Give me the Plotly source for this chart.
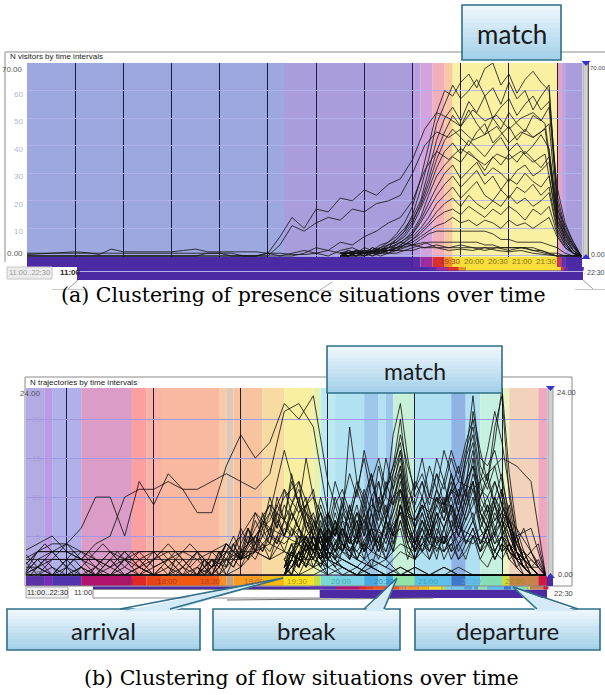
import pandas as pd
import plotly.graph_objects as go

W, H = 605, 695
DAY = "2000-01-01 "

# ---------------- data: (a) N visitors by time intervals ----------------
FULL_T = pd.date_range(DAY + "11:00", DAY + "22:30", freq="15min")   # 47 steps
TOP_T = pd.date_range(DAY + "17:30", DAY + "22:30", freq="10min")    # 31 steps

E1 = [1,1,1,1,1,1,1,1,1,1, 1,1,1,1,1,1,1,1,0,0, 1,7,14,10,17,16,21,20,24,22,
      26,28,35,46,52,50,47,53,49,51, 46,50,52,48,17,8,0]
E2 = [0,0,0,0,0,0,0,0,0,0, 0,0,0,0,0,0,0,0,0,0, 0,4,11,9,12,14,13,17,16,19,
      20,22,30,40,45,43,46,42,44,47, 41,45,43,46,15,6,0]
E3 = [0,0,0,0,0,0,0,0,0,0, 0,0,0,0,0,0,0,0,0,0, 0,0,0,1,3,2,5,4,7,9,
      12,14,20,31,38,35,39,36,33,37, 35,38,34,37,13,5,0]
L1 = [0.5,0.8,1,1.2,1.5,1.2,0.5,2.5,1.5,1.5, 1.5,1.5,1.5,2,2.5,1.5,1.5,1.5,1.5,1.5,
      1,1,0.5,0.5,1,2,1,1.5,2,1.5, 2,3,4,5,3,2,2.5,2,3,2, 1.5,2,1,0.5,0,0,0]
L2 = [0,0,0,0,0,0,0,0,0,0, 0,0,0,0,0,1,1,0,0,0, 1,0,1,2,1,0,2,3,1,2,
      3,5,4,3,4,3,4,3,2,3, 2,3,2,1,0,0,0]
TOP_FULL_SERIES = [E1, E2, E3, L1, L2]

T1 = [1,2,1,3,2,4,5,8,12,18, 28,40,52,60,58,63,66,61,68,70, 62,66,59,64,67,63,60,22,10,4, 0]
T2 = [0,1,2,1,3,2,4,6,9,15, 24,35,48,55,62,57,60,64,58,61, 55,63,57,60,53,58,62,18,8,3, 0]
T3 = [1,0,2,1,2,3,5,7,10,14, 20,31,42,50,54,49,56,52,58,50, 54,57,51,55,58,53,56,25,12,5, 0]
T4 = [0,1,0,2,1,3,4,5,8,12, 19,28,38,45,51,47,53,48,44,50, 46,52,48,45,51,49,54,20,9,4, 0]
T5 = [1,1,2,1,2,2,3,6,9,13, 18,26,35,42,46,43,40,45,48,41, 44,47,42,46,43,45,48,16,7,2, 0]
T6 = [0,2,1,1,3,2,4,5,7,11, 17,24,32,38,41,37,42,39,36,40, 43,38,41,37,40,44,39,15,6,2, 0]
T7 = [1,0,1,2,1,3,2,4,6,9, 14,22,29,33,36,34,38,35,31,36, 33,37,34,38,35,32,36,12,5,1, 0]
T8 = [0,1,1,0,2,1,3,4,6,8, 13,19,25,30,33,28,31,34,29,32, 30,27,31,33,29,31,34,13,6,2, 0]
T9 = [1,1,0,2,1,2,3,3,5,8, 12,17,22,26,29,25,28,31,26,29, 24,28,26,30,27,25,29,11,5,1, 0]
T10 = [0,0,1,1,2,1,2,3,5,7, 10,14,19,22,25,21,24,27,22,20, 24,21,25,23,26,22,25,10,4,1, 0]
T11 = [0,1,0,1,1,2,2,3,4,6, 9,12,16,19,21,18,22,19,17,20, 18,22,19,21,18,20,23,9,4,1, 0]
T12 = [1,0,1,0,1,1,2,2,4,6, 8,11,14,16,17,15,18,16,14,17, 15,18,16,13,17,15,18,8,3,1, 0]
T13 = [0,1,1,1,0,2,1,3,4,5, 7,9,11,12,14,12,13,11,13,12, 10,13,11,12,10,12,14,7,3,1, 0]
T14 = [0,0,1,0,1,1,2,2,3,4, 6,8,9,9,9,9,9,9,9,8, 6,6,5,5,5,5,4,3,1,0, 0]
T15 = [0,0,0,1,0,1,1,2,2,3, 4,5,5,5,5,5,5,5,4,4, 3,3,3,3,2,2,1,1,0,0, 0]
T16 = [0,0,0,0,1,0,1,1,2,2, 3,3,3,3,3,3,3,3,3,3, 3,3,3,3,3,2,1,0,0,0, 0]
TOP_SERIES = [T1, T2, T3, T4, T5, T6, T7, T8, T9, T10, T11, T12, T13, T14, T15, T16]

TOP_BAND_EDGES = ["11:00", "16:20", "19:00", "19:10", "19:25", "19:40", "19:50",
                  "22:00", "22:05", "22:10", "22:31"]
TOP_BAND_FILL = ["#9da7e0", "#a99ddc", "#b8a0e0", "#d3a3dd", "#f1aebb", "#f8c9a2",
                 "#faf0a2", "#eaa2b8", "#c7a2e2", "#a99ddc"]
TOP_BAND_STRIP = ["#4b2aa3", "#4b2aa3", "#5a2ca8", "#9a2e9e", "#dc2f2f", "#f39224",
                  "#f7de3a", "#d8344a", "#6a2eaa", "#4b2aa3"]
TOP_STRIP_LABELS = ["19:30", "20:00", "20:30", "21:00", "21:30"]
TOP_STRIP_LABEL_COLORS = ["#9a3a20", "#8a7020", "#8a7020", "#8a7020", "#8a7020"]
TOP_Y_TICKS = [0, 10, 20, 30, 40, 50, 60, 70]
TOP_Y_LABELS = ["0.00", "10", "20", "30", "40", "50", "60", "70.00"]

# ---------------- data: (b) N trajectories by time intervals ----------------
BOT_T = pd.date_range(DAY + "16:30", DAY + "22:30", freq="10min")    # 37 steps
EARLY_T = pd.date_range(DAY + "16:30", DAY + "18:30", freq="5min")   # 25 steps
ARR_T = pd.date_range(DAY + "18:30", DAY + "20:00", freq="5min")     # 19 steps
MATCH_T = pd.date_range(DAY + "19:30", DAY + "22:30", freq="5min")   # 37 steps
DEP_T = pd.date_range(DAY + "21:45", DAY + "22:30", freq="5min")     # 10 steps

B1 = [2,3,3,4,6,10,10,5,12,9, 13,11,8,8,14,18,15,17,22,20, 23,12,6,3,1,2,0,1,0,0, 1,0,0,0,0,0,0]
B2 = [0,2,3,3,2,4,5,10,11,11, 12,11,11,12,13,12,11,13,21,22, 19,8,4,2,1,0,1,0,0,1, 0,0,0,0,0,0,0]
B3 = [0,0,1,0,1,0,0,1,0,0, 1,0,0,2,1,3,5,8,16,9, 5,3,1,0,2,1,0,0,0,1, 0,0,0,0,0,0,0]
B4 = [3,4,5,3,2,1,3,2,3,1, 2,3,2,3,4,2,3,5,4,6, 3,2,1,0,1,0,0,1,0,0, 0,0,0,0,0,0,0]
B5 = [1,3,4,4,3,2,1,3,1,2, 3,1,3,1,2,3,5,3,7,5, 4,2,0,1,0,0,0,0,0,0, 0,0,0,0,0,0,0]
B6 = [2,2,2,2,2,2,1,2,2,3, 3,3,3,3,3,2,4,6,5,9, 7,3,2,1,0,0,1,0,0,0, 0,0,0,0,0,0,0]
B7 = [0,1,0,2,0,1,0,2,1,0, 2,0,1,0,4,2,5,7,11,8, 10,6,3,2,1,0,0,0,0,0, 0,0,0,0,0,0,0]
B8 = [1,1,2,2,2,2,2,2,2,2, 2,2,2,2,2,2,3,2,3,2, 1,0,0,0,0,0,0,0,0,0, 0,0,0,0,0,0,0]
B9 = [0,3,3,3,3,3,3,3,3,3, 3,3,3,3,3,3,3,4,3,2, 2,1,0,0,0,0,0,0,0,0, 0,0,0,0,0,0,0]
B10 = [0,0,0,0,1,0,0,0,1,0, 0,2,0,1,3,5,8,6,10,12, 7,4,2,1,0,0,0,0,0,0, 0,0,0,0,0,0,0]
B11 = [0,0,0,0,0,0,1,0,0,1, 2,0,3,1,4,2,6,9,7,11, 5,3,1,0,0,0,0,0,0,0, 0,0,0,0,0,0,0]
B12 = [0,1,0,1,0,0,2,0,1,0, 0,1,0,2,0,1,3,2,5,4, 6,2,1,0,0,0,0,0,0,0, 0,0,0,0,0,0,0]
B13 = [0,0,0,0,0,0,0,0,0,0, 0,0,0,0,0,0,0,0,0,0, 1,2,4,3,6,5,8,7,10,9, 12,11,13,15,14,12,0]
B14 = [0,0,0,0,0,0,0,0,0,0, 0,0,0,0,0,0,0,0,0,0, 0,1,2,1,3,2,4,3,5,4, 6,5,4,7,5,6,0]
B15 = [0,0,0,0,0,0,0,0,0,0, 0,0,0,0,0,0,0,0,0,0, 0,0,1,0,2,1,3,2,4,3, 5,4,6,8,6,3,0]
BOT_SERIES = [B1, B2, B3, B4, B5, B6, B7, B8, B9, B10, B11, B12, B13, B14, B15]

X1 = [0,1,2,1,0,1,2,3,2,1, 0,1,2,1,2,3,2,1,0,1, 0,2,1,0,1]
X2 = [2,1,0,1,2,3,4,3,2,3, 2,1,2,3,2,1,0,1,2,3, 2,3,2,1,2]
X3 = [1,2,3,4,3,2,1,0,1,2, 1,2,3,2,1,2,3,3,3,2, 1,0,1,2,3]
X4 = [0,0,1,2,3,2,1,2,1,0, 1,0,0,1,2,1,2,1,2,3, 4,3,2,1,0]
X5 = [3,2,1,2,1,0,1,2,3,2, 3,4,3,2,3,2,1,2,3,2, 1,2,3,4,3]
EARLY_SERIES = [X1, X2, X3, X4, X5]

A1 = [0,1,3,2,4,3,5,4,7,5, 8,6,9,7,10,6,4,2,0]
A2 = [1,0,2,1,3,5,3,6,4,7, 9,6,11,8,6,9,5,3,1]
A3 = [0,2,1,3,2,4,2,5,3,6, 4,8,5,9,12,7,4,2,1]
A4 = [2,1,0,2,4,3,6,4,8,6, 10,7,5,8,6,4,3,1,0]
A5 = [0,0,1,0,2,1,3,2,5,3, 6,4,7,5,8,10,6,3,2]
A6 = [1,2,0,1,3,2,4,6,4,7, 5,9,7,12,9,6,8,4,2]
A7 = [0,1,0,1,2,1,3,2,4,3, 5,4,6,5,7,9,11,6,3]
A8 = [3,1,2,0,1,3,2,4,3,5, 4,7,5,8,6,4,5,3,1]
A9 = [0,2,1,3,1,4,2,6,3,8, 5,10,7,13,9,15,10,5,2]
A10 = [1,0,1,2,0,2,1,3,2,4, 2,5,3,6,4,5,3,2,1]
ARR_SERIES = [A1, A2, A3, A4, A5, A6, A7, A8, A9, A10]

M1 = [1,3,2,5,3,6,4,8,5,9, 6,11,8,14,10,18,22,15,10,12, 8,11,9,13,10,15,23,14,12,17, 24,13,6,3,1,0,0]
M2 = [0,3,4,7,5,9,6,10,7,19, 12,9,13,8,11,14,20,12,8,10, 7,9,12,8,11,9,13,10,12,9, 6,4,2,1,0,0,0]
M3 = [0,2,5,3,7,4,8,5,10,7, 11,8,12,9,15,11,16,10,7,9, 6,10,8,11,14,10,21,16,12,19, 23,10,5,2,1,0,0]
M4 = [0,2,6,3,5,8,4,7,3,6, 9,5,8,4,7,10,13,8,5,7, 4,8,6,9,5,8,11,7,9,6, 8,5,3,1,0,0,0]
M5 = [1,4,2,5,3,7,4,6,9,5, 8,6,10,7,12,9,14,8,11,15, 10,13,9,12,8,11,7,10,13,9, 11,7,4,2,1,0,0]
M6 = [2,1,3,2,4,3,5,3,6,4, 5,3,6,4,7,5,9,6,4,6, 3,5,4,6,3,5,7,4,6,3, 5,4,2,1,0,0,0]
M7 = [0,1,0,2,1,3,2,4,3,5, 2,4,3,6,4,7,10,5,3,5, 2,4,3,5,2,4,6,3,5,2, 4,3,1,0,0,0,0]
M8 = [1,4,4,8,6,10,7,12,9,13, 10,16,12,15,11,13,18,14,11,13, 10,15,12,16,13,17,20,15,14,16, 12,8,3,1,0,0,0]
M9 = [0,3,2,6,4,3,7,5,8,6, 4,7,5,9,6,8,12,7,4,6, 8,5,9,6,10,7,9,12,8,10, 7,5,3,2,1,1,0]
M10 = [0,3,5,4,6,8,5,9,11,8, 12,10,13,9,11,14,17,11,9,12, 9,13,11,15,12,16,19,13,11,14, 10,6,2,0,0,0,0]
M11 = [0,2,1,3,2,1,3,2,4,3, 2,4,3,5,3,6,8,4,2,4, 3,5,4,6,4,5,7,4,6,4, 5,3,2,1,0,0,0]
M12 = [1,2,4,3,5,4,6,5,7,6, 8,7,9,8,10,9,11,8,7,9, 8,10,9,11,10,12,14,11,10,12, 9,7,4,3,2,1,0]
M13 = [0,1,3,1,4,2,5,3,7,4, 8,5,10,6,8,12,15,9,6,8, 5,9,7,10,6,9,12,8,10,7, 9,6,3,2,0,0,0]
M14 = [1,0,2,4,2,5,3,6,4,3, 5,7,4,8,5,9,13,6,4,7, 5,8,6,9,7,10,15,8,6,9, 7,4,2,1,1,0,0]
M15 = [0,2,1,4,3,6,8,5,9,7, 11,15,10,12,8,10,11,9,12,10, 14,11,16,13,10,15,18,12,16,21, 17,11,5,2,0,0,0]
M16 = [2,4,1,3,5,2,4,6,3,5, 7,4,6,3,5,8,11,6,3,5, 7,4,6,8,5,7,10,6,8,5, 7,4,2,3,1,0,0]
M17 = [0,2,4,2,5,3,6,3,5,2, 4,6,3,5,2,4,7,3,2,4, 6,3,5,2,4,6,8,4,6,3, 5,2,1,0,0,0,0]
M18 = [1,3,1,4,2,5,2,4,6,3, 5,2,6,3,7,4,9,5,3,6, 4,7,3,5,8,4,6,3,7,4, 6,3,2,1,0,0,0]
M19 = [2,0,3,1,3,1,4,2,3,5, 2,4,1,4,2,5,6,2,5,3, 2,5,2,4,2,3,5,2,4,6, 3,4,3,2,1,0,0]
M20 = [0,1,2,4,1,3,5,2,6,4, 7,3,8,5,6,3,9,4,2,5, 3,6,4,7,5,8,12,6,9,5, 11,6,3,1,0,0,0]
M21 = [1,2,1,3,4,2,3,1,3,2, 5,3,4,2,5,3,7,4,6,3, 5,2,6,3,4,2,5,3,4,2, 4,2,3,1,2,1,0]
M22 = [0,1,3,5,3,6,4,7,5,8, 5,9,6,10,7,11,14,8,6,9, 6,10,7,11,8,12,16,9,7,10, 8,6,4,2,1,0,0]
M23 = [0,2,1,4,2,6,3,7,4,9, 5,10,6,12,7,13,16,9,6,10, 7,11,8,13,9,14,17,10,8,12, 9,6,3,1,0,0,0]
M24 = [1,0,3,2,5,2,6,4,3,7, 4,8,5,3,7,5,9,6,3,7, 5,8,4,9,6,10,12,7,5,8, 6,9,4,2,1,0,0]
M25 = [0,1,2,1,3,5,2,4,6,3, 5,8,4,6,9,5,11,7,4,8, 5,7,10,6,8,11,14,8,6,10, 13,7,3,1,0,0,0]
M26 = [2,3,2,4,3,2,5,3,4,2, 6,3,5,4,3,6,8,5,4,3, 6,4,5,3,7,4,5,6,4,3, 5,3,2,2,1,0,0]
MATCH_SERIES = [M1, M2, M3, M4, M5, M6, M7, M8, M9, M10, M11, M12, M13, M14, M15, M16,
                M17, M18, M19, M20, M21, M22, M23, M24, M25, M26]

D1 = [6,4,5,3,4,2,3,1,2,0]
D2 = [3,5,2,4,3,5,2,3,1,0]
D3 = [2,1,3,2,4,1,2,3,1,0]
D4 = [8,6,9,5,7,4,6,3,4,0]
DEP_SERIES = [D1, D2, D3, D4]

BOT_BAND_EDGES = ["16:30", "16:45", "16:50", "17:10", "17:45", "17:55", "18:05", "18:45",
                  "18:50", "18:55", "19:15", "19:30", "19:50", "19:55", "20:05", "20:25",
                  "20:35", "20:40", "20:45", "21:00", "21:25", "21:35", "21:45", "22:00",
                  "22:05", "22:25", "22:32"]
BOT_BAND_FILL = ["#b3abe3", "#bd9ae4", "#b0b0ea", "#db9dc8", "#fb9fa0", "#fab1a6", "#f9b9a0",
                 "#f8caa8", "#dfc8b8", "#f8c4a0", "#f8dba0", "#f8f0a0", "#e6f2b2", "#bdeaf0",
                 "#b2e2f2", "#9dc8ec", "#b2e2f2", "#9dc8ec", "#c8f0d8", "#b0e0f2", "#8fb4e4",
                 "#b0e0f2", "#c6f0e0", "#eaf4c0", "#f2d2ba", "#f0a8c0"]
BOT_BAND_STRIP = ["#5a32a8", "#7a2ab8", "#5234b0", "#b0146e", "#e02828", "#e84218", "#ee5a14",
                  "#f88c28", "#c8a07c", "#f89a20", "#f8b810", "#f8e020", "#c4e040", "#78d8d4",
                  "#74d0e4", "#4aa8e0", "#74d0e4", "#4aa8e0", "#90e4a8", "#5cc0e8", "#3c78c8",
                  "#5cc0e8", "#84e0b4", "#c8e040", "#c8844a", "#d01840"]
BOT_STRIP_LABELS = ["17:30", "18:00", "18:30", "19:00", "19:30", "20:00", "20:30", "21:00",
                    "21:30", "22:00"]
BOT_STRIP_LABEL_COLORS = ["#8a2a4a", "#a03020", "#a03a20", "#a05a20", "#9a7a10", "#3a9a9a",
                          "#2a7aaa", "#3a9aaa", "#7a9ad8", "#8a8a10"]
BOT_Y_TICKS = [0, 5, 10, 15, 20, 24]
BOT_Y_LABELS = ["0.00", "5", "10", "15", "20", "24.00"]


# ---------------- helpers ----------------
def hm(s):
    return DAY + s


def hours(s):
    h, m = s.split(":")
    return int(h) + int(m) / 60


def X(p):
    return p / W


def Y(p):
    return 1 - p / H


fig = go.Figure()
LINE_TOP = dict(color="#111111", width=0.8)
LINE_BOT = dict(color="#0a0a0a", width=0.8)


def add_lines(times, series_list, line, xa, ya):
    for s in series_list:
        fig.add_trace(go.Scatter(x=times, y=s, mode="lines", line=line, xaxis=xa, yaxis=ya,
                                 hoverinfo="skip", showlegend=False))


add_lines(FULL_T, TOP_FULL_SERIES, LINE_TOP, "x", "y")
add_lines(TOP_T, TOP_SERIES, LINE_TOP, "x", "y")
add_lines(BOT_T, BOT_SERIES, LINE_BOT, "x2", "y2")
add_lines(EARLY_T, EARLY_SERIES, LINE_BOT, "x2", "y2")
add_lines(ARR_T, ARR_SERIES, LINE_BOT, "x2", "y2")
add_lines(MATCH_T, MATCH_SERIES, LINE_BOT, "x2", "y2")
add_lines(DEP_T, DEP_SERIES, LINE_BOT, "x2", "y2")

shapes = []
ann = []

TOP_STRIP = (-4.0, -0.36)
BOT_STRIP = (-1.41, -0.13)

# background bands + strips, both panels
for edges, fills, strips, xr, yr, ytop, strip in [
        (TOP_BAND_EDGES, TOP_BAND_FILL, TOP_BAND_STRIP, "x", "y", 70, TOP_STRIP),
        (BOT_BAND_EDGES, BOT_BAND_FILL, BOT_BAND_STRIP, "x2", "y2", 24, BOT_STRIP)]:
    for i in range(len(fills)):
        shapes.append(dict(type="rect", xref=xr, yref=yr, x0=hm(edges[i]), x1=hm(edges[i + 1]),
                           y0=strip[1], y1=ytop, fillcolor=fills[i], line=dict(width=0),
                           layer="below"))
        shapes.append(dict(type="rect", xref=xr, yref=yr, x0=hm(edges[i]), x1=hm(edges[i + 1]),
                           y0=strip[0], y1=strip[1], fillcolor=strips[i], line=dict(width=0),
                           layer="above"))

# strip time labels
for lab, col in zip(TOP_STRIP_LABELS, TOP_STRIP_LABEL_COLORS):
    ann.append(dict(x=hm(lab), y=sum(TOP_STRIP) / 2, xref="x", yref="y", text=lab, showarrow=False,
                    xanchor="left", yanchor="middle", xshift=1,
                    font=dict(family="Liberation Sans", size=8, color=col)))
for lab, col in zip(BOT_STRIP_LABELS, BOT_STRIP_LABEL_COLORS):
    ann.append(dict(x=hm(lab), y=sum(BOT_STRIP) / 2, xref="x2", yref="y2", text=lab,
                    showarrow=False, xanchor="left", yanchor="middle", xshift=1, opacity=0.75,
                    font=dict(family="Liberation Sans", size=8, color=col)))

# y-axis value labels (drawn as text next to the gridlines)
for i, (v, lab) in enumerate(zip(TOP_Y_TICKS, TOP_Y_LABELS)):
    end = i in (0, len(TOP_Y_TICKS) - 1)
    shift = 2 if i == 0 else (-6 if i == len(TOP_Y_TICKS) - 1 else -3.5)
    ann.append(dict(x=X(25), y=v, xref="paper", yref="y", text=lab, showarrow=False,
                    xanchor="right", yanchor="middle", yshift=shift,
                    font=dict(family="Liberation Sans", size=8,
                              color="#555555" if end else "#b4b4d8")))
for i, (v, lab) in enumerate(zip(BOT_Y_TICKS, BOT_Y_LABELS)):
    end = i in (0, len(BOT_Y_TICKS) - 1)
    shift = 2 if i == 0 else (-5 if i == len(BOT_Y_TICKS) - 1 else 0)
    ann.append(dict(x=X(43.5), y=v, xref="paper", yref="y2", text=lab, showarrow=False,
                    xanchor="right", yanchor="middle", yshift=shift,
                    font=dict(family="Liberation Sans", size=8,
                              color="#555555" if end else "#a49ed8")))


def prect(x0, y0, x1, y1, fill, line_color=None, lw=1, layer="above"):
    shapes.append(dict(type="rect", xref="paper", yref="paper", x0=X(x0), x1=X(x1), y0=Y(y1),
                       y1=Y(y0), fillcolor=fill,
                       line=dict(width=lw if line_color else 0, color=line_color or fill),
                       layer=layer))


def pline(x0, y0, x1, y1, color, lw=1):
    shapes.append(dict(type="line", xref="paper", yref="paper", x0=X(x0), x1=X(x1), y0=Y(y0),
                       y1=Y(y1), line=dict(color=color, width=lw), layer="above"))


def ptext(x, y, text, size=8, color="#222", anchor="left", family="Liberation Sans", bold=False,
          pad=1):
    if bold:
        text = "<b>" + text + "</b>"
    ann.append(dict(x=X(x), y=Y(y), xref="paper", yref="paper", text=text, showarrow=False,
                    xanchor=anchor, yanchor="middle", borderpad=pad,
                    font=dict(family=family, size=size, color=color)))


# ----- panel (a) chrome -----
pline(5, 52, 605, 52, "#8a8a8a")
pline(5, 52, 5, 262, "#8a8a8a")
ptext(8, 57, "N visitors by time intervals", 8, "#1a1a1a")
prect(583, 63, 588, 257, "#cfcfcf", "#a0a0a0", 1)
pline(588.5, 63, 588.5, 257, "#555555", 1)
shapes.append(dict(type="path", xref="paper", yref="paper",
                   path=f"M {X(581.5)},{Y(61)} L {X(590.5)},{Y(61)} L {X(586)},{Y(66)} Z",
                   fillcolor="#3434c8", line=dict(width=0), layer="above"))
shapes.append(dict(type="path", xref="paper", yref="paper",
                   path=f"M {X(581.5)},{Y(259)} L {X(590.5)},{Y(259)} L {X(586)},{Y(254)} Z",
                   fillcolor="#3434c8", line=dict(width=0), layer="above"))
ptext(588.8, 68, "70.00", 6, "#444", pad=0)
ptext(589.5, 254, "0.00", 7, "#444", pad=0)
# overview bar
prect(77, 267, 583, 280, "#4b2aa3")
for i in range(len(TOP_BAND_STRIP)):
    a = 77 + (hours(TOP_BAND_EDGES[i]) - 11) * 506 / 11.5
    b = 77 + (hours(TOP_BAND_EDGES[i + 1]) - 11) * 506 / 11.5
    prect(a, 267, b, 270.5, TOP_BAND_STRIP[i])
pline(77, 271.5, 583, 271.5, "#b8aee8", 1)
prect(7, 267, 52, 279, "#ececec", "#c4c4c4", 1)
ptext(29.5, 273, "11:00..22:30", 7.5, "#9a9a9a", "center")
ptext(58, 273, "11:00", 8, "#222", bold=True)
ptext(586, 273, "22:30", 7, "#444", pad=0)
pline(78, 280, 68, 289, "#9a9a9a")
pline(52, 289.5, 84, 289.5, "#c8c8c8")
pline(583, 280, 593, 289, "#9a9a9a")
pline(575, 289.5, 605, 289.5, "#c8c8c8")
pline(320, 290, 332, 282, "#b0b0b0")
pline(306, 290.5, 334, 290.5, "#d0d0d0")

# ----- panel (b) chrome -----
shapes.append(dict(type="rect", xref="paper", yref="paper", x0=X(25), x1=X(572), y0=Y(586),
                   y1=Y(377), fillcolor="rgba(0,0,0,0)", line=dict(color="#8a8a8a", width=1),
                   layer="above"))
ptext(28, 382.5, "N trajectories by time intervals", 8, "#1a1a1a")
prect(548, 388, 553, 576, "#cfcfcf", "#9a9a9a", 1)
shapes.append(dict(type="path", xref="paper", yref="paper",
                   path=f"M {X(546)},{Y(386)} L {X(555)},{Y(386)} L {X(550.5)},{Y(391)} Z",
                   fillcolor="#3434c8", line=dict(width=0), layer="above"))
shapes.append(dict(type="path", xref="paper", yref="paper",
                   path=f"M {X(546)},{Y(578)} L {X(555)},{Y(578)} L {X(550.5)},{Y(573)} Z",
                   fillcolor="#3434c8", line=dict(width=0), layer="above"))
prect(547, 577, 553, 586, "#4b2aa3")
ptext(555, 392, "24.00", 7.5, "#444")
ptext(556, 574, "0.00", 7.5, "#444")
prect(93, 586.5, 547, 589.5, "#4b2aa3")
for i in range(len(BOT_BAND_STRIP)):
    a = 93 + (hours(BOT_BAND_EDGES[i]) - 11) * 454 / 11.5
    b = 93 + (hours(BOT_BAND_EDGES[i + 1]) - 11) * 454 / 11.5
    prect(a, 586.5, b, 589.5, BOT_BAND_STRIP[i])
prect(93, 589.5, 320, 598, "#ffffff", "#8a8a8a", 1)
prect(320, 590, 547, 598, "#4b2aa3")
prect(26, 587, 68, 598, "#f0f0f0", "#a8a8a8", 1)
ptext(47, 592.5, "11:00..22:30", 7.5, "#333", "center")
ptext(72, 592.5, "11:00", 7.5, "#333")
ptext(552, 593, "22:30", 7.5, "#444")
pline(227, 600, 433, 598, "#6a6a6a")

# ----- callout boxes -----
TOPC = (238, 247, 252)
BOTC = (164, 208, 233)
BORDER = "#2f6f87"


def callout(x0, y0, x1, y1, text, size, ptr=None):
    n = 12
    for i in range(n):
        f = i / (n - 1)
        c = tuple(round(TOPC[k] + (BOTC[k] - TOPC[k]) * f) for k in range(3))
        ya = y0 + (y1 - y0) * i / n
        yb = y0 + (y1 - y0) * (i + 1) / n + 0.6
        prect(x0, ya, x1, min(yb, y1), "rgb(%d,%d,%d)" % c)
    shapes.append(dict(type="rect", xref="paper", yref="paper", x0=X(x0), x1=X(x1), y0=Y(y1),
                       y1=Y(y0), fillcolor="rgba(0,0,0,0)", line=dict(color=BORDER, width=1.6),
                       layer="above"))
    if ptr:
        bx0, bx1, tx, ty = ptr
        shapes.append(dict(type="path", xref="paper", yref="paper",
                           path=f"M {X(bx0)},{Y(y0 + 2.5)} L {X(tx)},{Y(ty)} L {X(bx1)},{Y(y0 + 2.5)} Z",
                           fillcolor="#d4eaf6", line=dict(width=0), layer="above"))
        shapes.append(dict(type="path", xref="paper", yref="paper",
                           path=f"M {X(bx0)},{Y(y0)} L {X(tx)},{Y(ty)} L {X(bx1)},{Y(y0)}",
                           fillcolor="rgba(0,0,0,0)", line=dict(color=BORDER, width=1.6),
                           layer="above"))
    ptext((x0 + x1) / 2, (y0 + y1) / 2 + 1, text, size, "#1a1a1a", "center", "Lato")


callout(462, 5, 561, 60, "match", 26)
callout(327, 346, 502, 393, "match", 23)
callout(7, 609, 200, 650, "arrival", 24, (120, 170, 283, 578))
callout(213, 609, 400, 650, "break", 24, (364, 384, 397, 578))
callout(415, 609, 600, 650, "departure", 24, (537, 578, 513, 587))

# captions
ptext(303, 295, "(a) Clustering of presence situations over time", 20.5, "#000", "center",
      "DejaVu Serif")
ptext(301, 678, "(b) Clustering of flow situations over time", 20.5, "#000", "center",
      "DejaVu Serif")

fig.update_layout(
    width=W, height=H, margin=dict(l=0, r=0, t=0, b=0),
    paper_bgcolor="white", plot_bgcolor="white", showlegend=False,
    xaxis=dict(domain=[X(27), X(582)], anchor="y", type="date",
               range=[hm("11:00"), hm("22:31")], showticklabels=False, ticks="",
               showgrid=True, gridcolor="#1d1d3f", gridwidth=1, dtick=3600000,
               tick0=hm("00:00"), zeroline=False, showline=False, fixedrange=True),
    yaxis=dict(domain=[Y(267), Y(63)], anchor="x", range=[TOP_STRIP[0], 70],
               tickvals=TOP_Y_TICKS, showticklabels=False,
               showgrid=True, gridcolor="rgba(178,178,236,0.9)", gridwidth=1, zeroline=False,
               showline=False, ticks="", fixedrange=True),
    xaxis2=dict(domain=[X(26), X(547)], anchor="y2", type="date",
                range=[hm("16:32"), hm("22:31")], showticklabels=False, ticks="",
                showgrid=True, gridcolor="#1d1d3f", gridwidth=1, dtick=3600000,
                tick0=hm("00:00"), zeroline=False, showline=False, fixedrange=True),
    yaxis2=dict(domain=[Y(586), Y(388)], anchor="x2", range=[BOT_STRIP[0], 24],
                tickvals=BOT_Y_TICKS, showticklabels=False, showgrid=True,
                gridcolor="#a298e4", gridwidth=1, zeroline=False, showline=False, ticks="",
                fixedrange=True),
    shapes=shapes, annotations=ann,
)

fig.write_html("out.html", config={"displayModeBar": False},
               post_script="document.body.style.margin='0px';")
